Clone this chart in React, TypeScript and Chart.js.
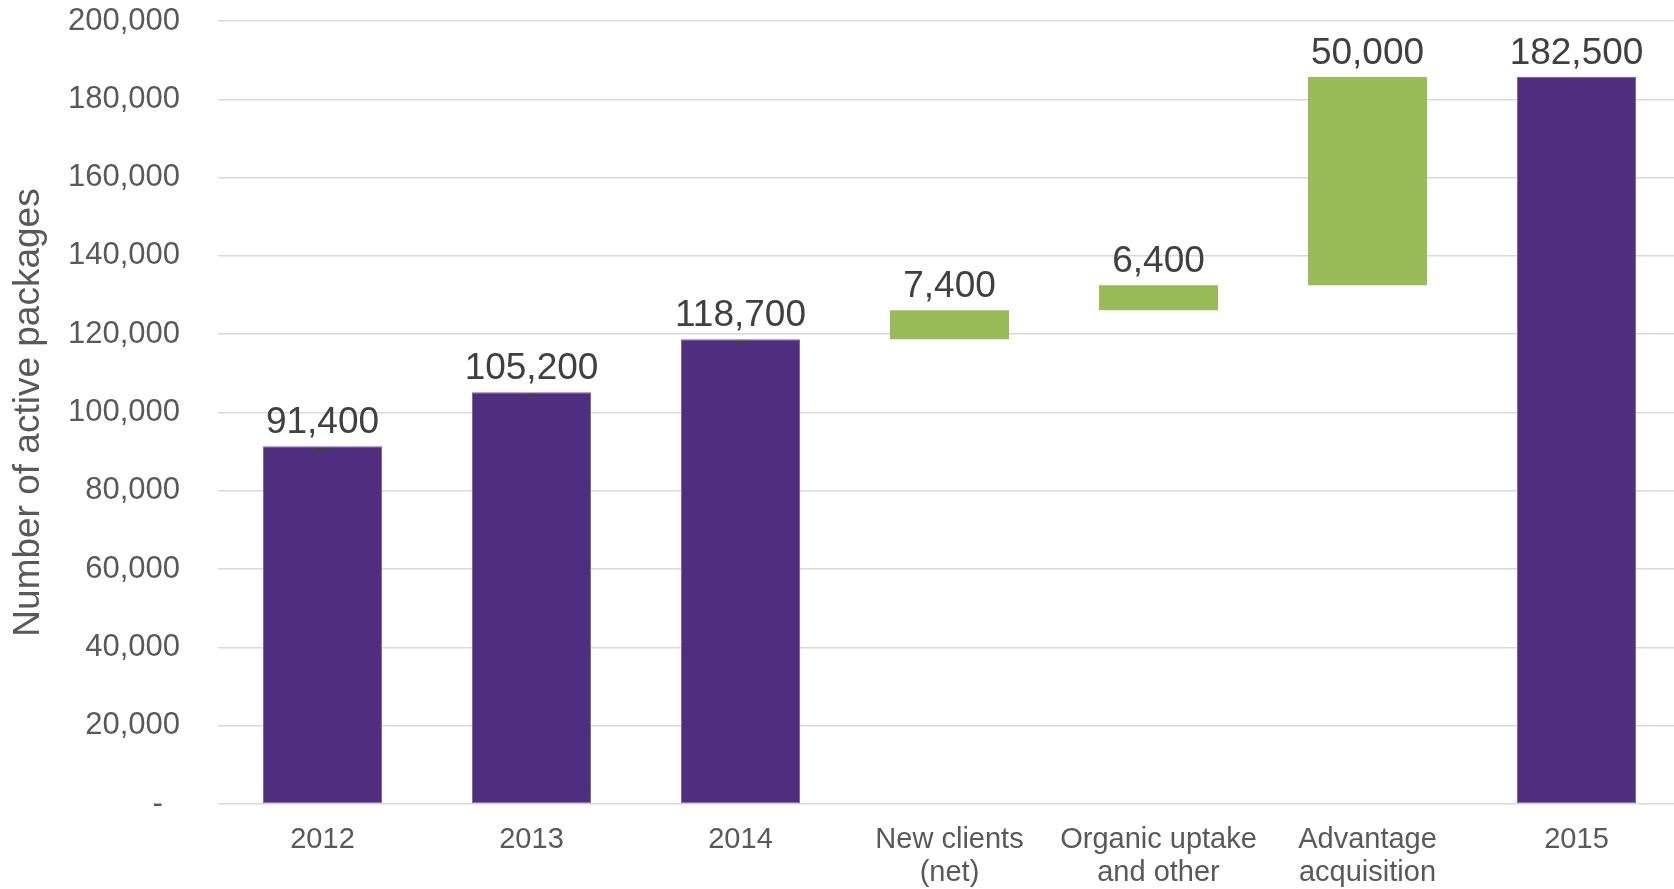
import React, { useEffect, useRef } from 'react';
import { Chart, registerables } from 'chart.js';

Chart.register(...registerables);

// ---- Data ----
const categories: string[][] = [
  ['2012'],
  ['2013'],
  ['2014'],
  ['New clients', '(net)'],
  ['Organic uptake', 'and other'],
  ['Advantage', 'acquisition'],
  ['2015'],
];
const barStarts = [0, 0, 0, 118700, 126100, 132500, 0];
const barEnds = [91400, 105200, 118700, 126100, 132500, 185700, 185700];
const barKinds = ['total', 'total', 'total', 'change', 'change', 'change', 'total'];
const valueLabels = ['91,400', '105,200', '118,700', '7,400', '6,400', '50,000', '182,500'];
const markerValues: (number | null)[] = [90400, 104400, 117800, null, null, null, null];
const yMin = 0;
const yMax = 200000;
const yStep = 20000;
const yAxisTitle = 'Number of active packages';

const PURPLE = '#4F2D7F';
const GREEN = '#9BBB59';
const FONT = "'Liberation Sans', Arial, sans-serif";

const valueLabelPlugin = {
  id: 'valueLabels',
  afterDatasetsDraw(chart: any) {
    const meta = chart.getDatasetMeta(0);
    const ctx = chart.ctx;
    ctx.save();
    ctx.font = `37px ${FONT}`;
    ctx.fillStyle = '#404040';
    ctx.textAlign = 'center';
    ctx.textBaseline = 'alphabetic';
    meta.data.forEach((el: any, i: number) => {
      const top = Math.min(el.y, el.base);
      ctx.fillText(valueLabels[i], el.x, top - 13);
    });
    ctx.restore();
  },
};

export default function App() {
  const canvasRef = useRef<HTMLCanvasElement | null>(null);

  useEffect(() => {
    if (!canvasRef.current) return;
    const chart = new Chart(canvasRef.current, {
      type: 'bar',
      data: {
        labels: categories,
        datasets: [
          {
            type: 'bar',
            data: barStarts.map((s, i) => [s, barEnds[i]]) as any,
            backgroundColor: barKinds.map((k) => (k === 'total' ? PURPLE : GREEN)),
            borderColor: barKinds.map((k) => (k === 'total' ? '#7a64a3' : GREEN)),
            borderWidth: barKinds.map((k) => (k === 'total' ? 1 : 0)),
            borderSkipped: false,
            categoryPercentage: 1,
            barPercentage: 0.57,
            order: 2,
          } as any,
          {
            type: 'line',
            data: markerValues as any,
            showLine: false,
            pointStyle: 'line',
            pointRadius: 5,
            pointBorderWidth: 3,
            pointBorderColor: '#404040',
            pointBackgroundColor: '#404040',
            order: 1,
          } as any,
        ],
      },
      options: {
        animation: false,
        responsive: false,
        maintainAspectRatio: false,
        devicePixelRatio: 1,
        layout: { padding: { top: 21, left: 0, right: 0, bottom: 0 } },
        plugins: {
          legend: { display: false },
          tooltip: { enabled: false },
        },
        scales: {
          x: {
            grid: { display: false, drawTicks: false },
            border: { display: false },
            ticks: {
              color: '#595959',
              font: { family: FONT, size: 29, lineHeight: 1.16 },
              padding: 19,
              maxRotation: 0,
              autoSkip: false,
            },
            afterFit(scale: any) {
              scale.height = 85;
              scale.paddingLeft = 0;
              scale.paddingRight = 0;
            },
          },
          y: {
            min: yMin,
            max: yMax,
            grid: { color: '#d9d9d9', lineWidth: 1.5, drawTicks: false },
            border: { display: false },
            ticks: {
              stepSize: yStep,
              color: '#595959',
              font: { family: FONT, size: 31 },
              padding: 38,
              callback: (v: any) => (Number(v) === 0 ? '-  ' : Number(v).toLocaleString('en-US')),
            },
            title: {
              display: true,
              text: yAxisTitle,
              color: '#595959',
              font: { family: FONT, size: 37, lineHeight: 1.2 },
              padding: { top: 7, bottom: 0 },
            },
            afterFit(scale: any) {
              scale.width = 218;
              scale.paddingTop = 0;
              scale.paddingBottom = 0;
            },
          },
        },
      },
      plugins: [valueLabelPlugin],
    });
    return () => chart.destroy();
  }, []);

  return (
    <div style={{ position: 'fixed', left: 0, top: 0, width: 1674, height: 889, overflow: 'hidden', background: '#fff' }}>
      <canvas ref={canvasRef} width={1689} height={889} style={{ width: 1689, height: 889, display: 'block' }} />
    </div>
  );
}
